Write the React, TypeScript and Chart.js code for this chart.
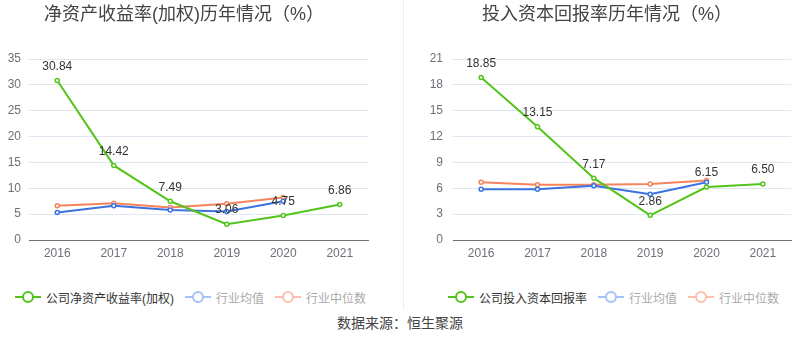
import React, { useEffect, useRef } from "react";
import { Chart, registerables } from "chart.js";

Chart.register(...registerables);

const years = ["2016", "2017", "2018", "2019", "2020", "2021"];

const roeCompany = [30.84, 14.42, 7.49, 3.06, 4.75, 6.86];
const roeIndustryMean = [5.3, 6.6, 5.8, 5.5, 7.5, null];
const roeIndustryMedian = [6.6, 7.1, 6.3, 7.0, 8.2, null];

const roicCompany = [18.85, 13.15, 7.17, 2.86, 6.15, 6.5];
const roicIndustryMean = [5.9, 5.9, 6.3, 5.3, 6.7, null];
const roicIndustryMedian = [6.7, 6.4, 6.4, 6.5, 6.9, null];

const leftTitle = "净资产收益率(加权)历年情况（%）";
const rightTitle = "投入资本回报率历年情况（%）";
const leftLegend = ["公司净资产收益率(加权)", "行业均值", "行业中位数"];
const rightLegend = ["公司投入资本回报率", "行业均值", "行业中位数"];
const sourceText = "数据来源：恒生聚源";

const GREEN = "#52c41a";
const BLUE = "#3a73e0";
const ORANGE = "#f5845c";
const FONT = "'Liberation Sans', 'Noto Sans CJK SC', sans-serif";

const labelPlugin = {
  id: "valueLabels",
  afterDatasetsDraw(chart: any) {
    const ctx = chart.ctx;
    const meta = chart.getDatasetMeta(0);
    const data = chart.data.datasets[0].data as number[];
    ctx.save();
    ctx.font = `12px ${FONT}`;
    ctx.fillStyle = "#333";
    ctx.textAlign = "center";
    ctx.textBaseline = "middle";
    meta.data.forEach((pt: any, i: number) => {
      const v = data[i];
      if (v == null) return;
      ctx.fillText(v.toFixed(2), pt.x, pt.y - 14);
    });
    ctx.restore();
  },
};

function makeDs(label: string, data: (number | null)[], color: string) {
  return {
    label,
    data,
    borderColor: color,
    backgroundColor: "#fff",
    pointBackgroundColor: "#fff",
    pointBorderColor: color,
    borderWidth: 2,
    pointRadius: 2,
    pointBorderWidth: 1.5,
    pointHoverRadius: 2,
    tension: 0,
    spanGaps: false,
  };
}

function ChartPanel(props: {
  company: (number | null)[];
  mean: (number | null)[];
  median: (number | null)[];
  max: number;
  step: number;
  yWidth: number;
  padRight: number;
  yPad: number;
}) {
  const ref = useRef<HTMLCanvasElement | null>(null);
  useEffect(() => {
    if (!ref.current) return;
    const chart = new Chart(ref.current, {
      type: "line",
      data: {
        labels: years,
        datasets: [
          makeDs("company", props.company, GREEN),
          makeDs("mean", props.mean, BLUE),
          makeDs("median", props.median, ORANGE),
        ],
      },
      options: {
        responsive: false,
        animation: false,
        layout: { padding: { top: 59, right: props.padRight, left: 0, bottom: 0 } },
        plugins: {
          legend: { display: false },
          tooltip: { enabled: false },
          title: { display: false },
        },
        scales: {
          x: {
            offset: true,
            grid: { display: false, drawTicks: false },
            border: { display: true, color: "#6e7079", width: 1 },
            ticks: { color: "#6e7079", font: { size: 12, family: FONT }, padding: 6 },
            afterFit: (s: any) => {
              s.height = 30;
            },
          },
          y: {
            min: 0,
            max: props.max,
            ticks: {
              stepSize: props.step,
              color: "#6e7079",
              font: { size: 12, family: FONT },
              padding: props.yPad,
            },
            grid: { color: "#e0e6f1", drawTicks: false },
            border: { display: false },
            afterFit: (s: any) => {
              s.width = props.yWidth;
            },
          },
        },
      },
      plugins: [labelPlugin],
    });
    return () => chart.destroy();
  }, []);
  return <canvas ref={ref} width={400} height={270} style={{ width: 400, height: 270, display: "block" }} />;
}

function LegendIcon({ color }: { color: string }) {
  return (
    <svg width={26} height={14} style={{ display: "block" }}>
      <line x1={0} y1={7} x2={26} y2={7} stroke={color} strokeWidth={2} />
      <circle cx={13} cy={7} r={5} fill="#fff" stroke={color} strokeWidth={2} />
    </svg>
  );
}

function Legend({ items, left }: { items: string[]; left: number }) {
  const iconColors = [GREEN, "#a6c1f3", "#f9c1ad"];
  const textColors = ["#333", "#aaa", "#aaa"];
  return (
    <div
      style={{
        position: "absolute",
        left,
        top: 289,
        display: "flex",
        alignItems: "center",
        height: 16,
        fontSize: 12,
        fontFamily: FONT,
        whiteSpace: "nowrap",
      }}
    >
      {items.map((t, i) => (
        <div key={i} style={{ display: "flex", alignItems: "center", marginRight: 11 }}>
          <LegendIcon color={iconColors[i]} />
          <span style={{ marginLeft: 5, color: textColors[i] }}>{t}</span>
        </div>
      ))}
    </div>
  );
}

export default function App() {
  return (
    <div
      style={{
        position: "absolute",
        left: 0,
        top: 0,
        width: 800,
        height: 358,
        background: "#fff",
        fontFamily: FONT,
        overflow: "hidden",
      }}
    >
      <div style={{ position: "absolute", left: 0, top: 0, width: 400 }}>
        <ChartPanel company={roeCompany} mean={roeIndustryMean} median={roeIndustryMedian} max={35} step={5} yWidth={29} padRight={32} yPad={8} />
      </div>
      <div style={{ position: "absolute", left: 400, top: 0, width: 400 }}>
        <ChartPanel company={roicCompany} mean={roicIndustryMean} median={roicIndustryMedian} max={21} step={3} yWidth={53} padRight={9} yPad={10} />
      </div>
      <div style={{ position: "absolute", left: 403, top: 0, width: 1, height: 310, background: "#eeeeee" }} />
      <div style={{ position: "absolute", left: 0, width: 368, top: 3, textAlign: "center", fontSize: 18, color: "#444", lineHeight: "22px" }}>
        {leftTitle}
      </div>
      <div style={{ position: "absolute", left: 400, width: 414, top: 3, textAlign: "center", fontSize: 18, color: "#444", lineHeight: "22px" }}>
        {rightTitle}
      </div>
      <Legend items={leftLegend} left={15} />
      <Legend items={rightLegend} left={448} />
      <div style={{ position: "absolute", left: 0, width: 800, top: 314, textAlign: "center", fontSize: 14, color: "#444", lineHeight: "18px" }}>
        {sourceText}
      </div>
    </div>
  );
}
